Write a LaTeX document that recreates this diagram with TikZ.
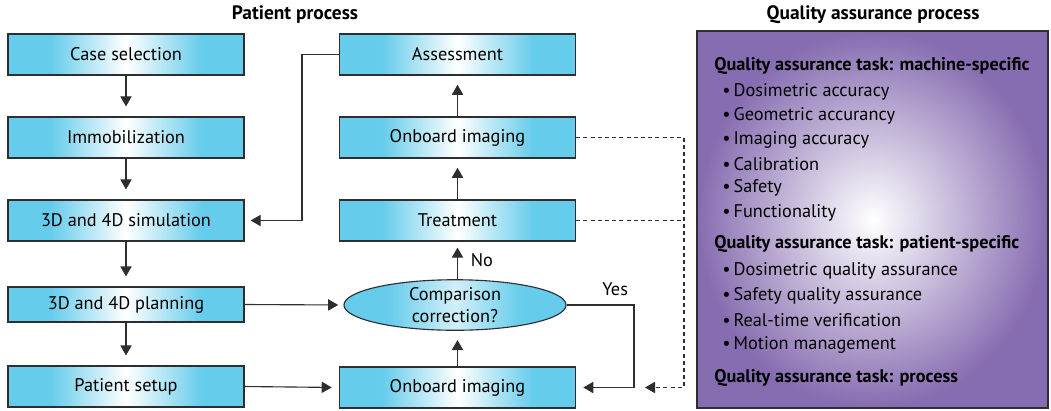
\documentclass[tikz,border=0pt]{standalone}
\usepackage{fontspec}
\setmainfont{PT Sans}
\usetikzlibrary{shapes.geometric,arrows.meta}
\definecolor{cian}{RGB}{102,204,235}
\definecolor{lila}{RGB}{134,108,176}
\definecolor{borde}{RGB}{45,45,50}
\pgfdeclarehorizontalshading{cajasombra}{100bp}{color(0bp)=(cian); color(25bp)=(cian);
  color(34bp)=(cian); color(50bp)=(white); color(66bp)=(cian); color(75bp)=(cian); color(100bp)=(cian)}
\pgfdeclarehorizontalshading{elipsesombra}{100bp}{color(0bp)=(cian); color(25bp)=(cian);
  color(35bp)=(cian); color(50bp)=(cian!30); color(65bp)=(cian); color(75bp)=(cian); color(100bp)=(cian)}
\begin{document}
\begin{tikzpicture}[
  x=0.025cm, y=-0.025cm,
  caja/.style={draw=borde, line width=0.8pt, shading=cajasombra,
    minimum width=5.9cm, minimum height=1.025cm, inner sep=0pt, font=\fontsize{13}{15}\selectfont},
  elipse/.style={ellipse, draw=borde, line width=0.8pt, shading=elipsesombra,
    minimum width=5.55cm, minimum height=1.15cm, inner sep=0pt, align=center, font=\fontsize{13}{15}\selectfont},
  flecha/.style={-{Triangle[length=2.5mm,width=2.8mm]}, draw=borde, line width=0.8pt},
  punteada/.style={draw=borde, line width=0.8pt, dash pattern=on 1mm off 0.8mm},
  rotulo/.style={font=\fontsize{13}{15}\selectfont},
  titulo/.style={font=\fontsize{13.8}{16}\selectfont\bfseries},
  tarea/.style={anchor=west, inner sep=0pt, font=\fontsize{13}{15}\selectfont\bfseries},
  punto/.style={anchor=west, inner sep=0pt, font=\fontsize{13}{15}\selectfont}
]
\useasboundingbox (0,0) rectangle (1051,410);

\node[titulo] (tpac) at (295,15) {Patient process};
\node[titulo] (tqa) at (873,15) {Quality assurance process};

% patient process, left column
\node[caja] (caso) at (126,54.5) {Case selection};
\node[caja] (inmov) at (126,137.5) {Immobilization};
\node[caja] (sim) at (126,220.5) {3D and 4D simulation};
\node[caja, minimum height=0.875cm] (plan) at (126,304.5) {3D and 4D planning};
\node[caja] (setup) at (126,386.5) {Patient setup};

% patient process, right column
\node[caja] (eval) at (457.5,54.5) {Assessment};
\node[caja] (onb1) at (457.5,137.5) {Onboard imaging};
\node[caja] (trat) at (457.5,220.5) {Treatment};
\node[elipse] (comp) at (455,305) {Comparison\\[1pt]correction?};
\node[caja] (onb2) at (457.5,387.5) {Onboard imaging};

\coordinate (vuelta) at (302,0);
\coordinate (si) at (634,305);
\coordinate (linea) at (684,0);
\coordinate (qafin) at (645,387.5);

\draw[flecha, shorten >=2.5mm] (caso) -- (inmov);
\draw[flecha, shorten >=2.5mm] (inmov) -- (sim);
\draw[flecha, shorten >=2.5mm] (sim) -- (plan);
\draw[flecha, shorten >=2.5mm] (plan) -- (setup);
\draw[flecha, shorten >=1.5mm] (eval.west) -| (vuelta |- sim.east) -- (sim.east);
\draw[flecha, shorten >=1.3mm] (plan.east) -- (comp.west);
\draw[flecha, shorten >=1.8mm] (setup.east) -- (onb2.west);
\draw[flecha, shorten >=2.3mm] (onb2.north) -- (onb2.north |- comp.south);
\draw[flecha, shorten >=1.5mm] (trat.south |- comp.north) -- node[right=2mm, rotulo] {No} (trat.south);
\draw[flecha, shorten >=1.8mm] (comp.east) -- node[pos=0.72, above=1mm, rotulo] {Yes} (si) |- (onb2.east);
\draw[flecha, shorten >=2.3mm] (trat) -- (onb1);
\draw[flecha, shorten >=2.3mm] (onb1) -- (eval);

% links to quality assurance
\draw[punteada] (trat.east) -- (trat.east -| linea);
\draw[punteada, -{Triangle[length=2.5mm,width=2.8mm]}] (onb1.east) -| (linea |- qafin) -- (qafin);

% quality assurance process
\node[draw=borde, line width=0.8pt, inner color=white, outer color=lila,
  minimum width=8.775cm, minimum height=9.425cm] (qa) at (872.5,219.5) {};
\node[tarea] (t1) at (714,66) {Quality assurance task: machine-specific};
\foreach \y/\t [count=\i] in {92/Dosimetric accuracy, 116/Geometric accurancy, 140/Imaging accuracy,
    164/Calibration, 188/Safety, 213/Functionality}
  \node[punto] (m\i) at (722,\y) {\textbullet\,\t};
\node[tarea] (t2) at (714,244) {Quality assurance task: patient-specific};
\foreach \y/\t [count=\i] in {271/Dosimetric quality assurance, 296/Safety quality assurance,
    320/Real-time verification, 345/Motion management}
  \node[punto] (p\i) at (722,\y) {\textbullet\,\t};
\node[tarea] (t3) at (714,378) {Quality assurance task: process};
\end{tikzpicture}
\end{document}
